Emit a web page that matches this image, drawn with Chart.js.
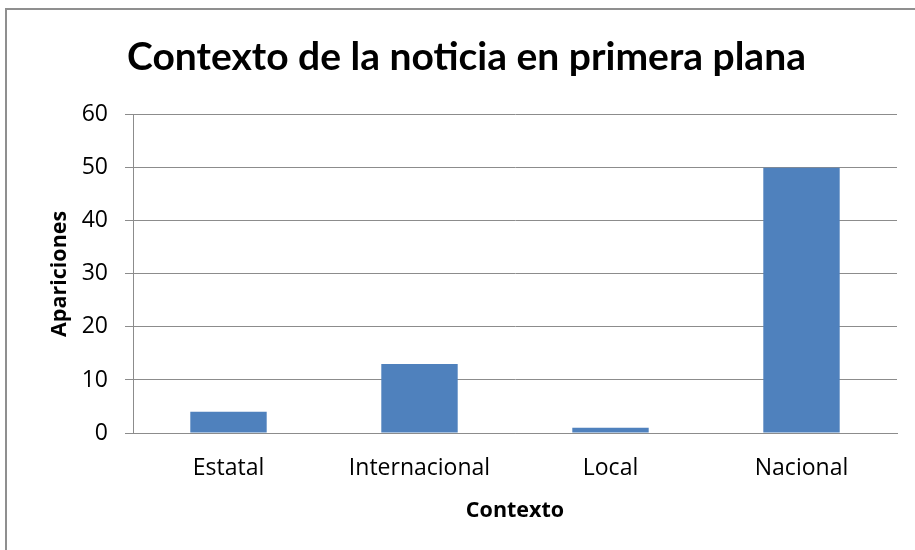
<!DOCTYPE html>
<html>
<head>
<meta charset="utf-8">
<script src="https://cdn.jsdelivr.net/npm/chart.js@4"></script>
<style>
  html, body { margin: 0; padding: 0; background: #ffffff; }
  #wrap { position: relative; width: 915px; height: 550px; overflow: hidden; background: #ffffff; }
  #frame { position: absolute; left: 5px; top: 8px; width: 1000px; height: 1000px; border-top: 2px solid #8f8f8f; border-left: 2px solid #8f8f8f; box-sizing: border-box; }
  canvas { position: absolute; left: 0; top: 0; }
</style>
</head>
<body>
<div id="wrap">
  <div id="frame"></div>
  <canvas id="c" width="915" height="550"></canvas>
</div>
<script>
const titleText = "Contexto de la noticia en primera plana";
const categories = ["Estatal", "Internacional", "Local", "Nacional"];
const apariciones = [4, 13, 1, 50];
const yTicks = [0, 10, 20, 30, 40, 50, 60];
const xAxisTitle = "Contexto";
const yAxisTitle = "Apariciones";

const TITLE_FONT = "Lato, 'Noto Sans', sans-serif";
const FONT = "'Open Sans', 'Noto Sans', sans-serif";
const gridColor = "#8c8c8c";

new Chart(document.getElementById("c"), {
  type: "bar",
  data: {
    labels: categories,
    datasets: [{
      data: apariciones,
      backgroundColor: "#4f81bd",
      borderWidth: 0,
      categoryPercentage: 1.0,
      barPercentage: 0.4
    }]
  },
  options: {
    responsive: false,
    animation: false,
    devicePixelRatio: 1,
    layout: { padding: { left: 36, right: 18, top: 0, bottom: 0 } },
    plugins: {
      legend: { display: false },
      tooltip: { enabled: false },
      title: {
        display: true,
        text: titleText,
        color: "#000000",
        font: { family: TITLE_FONT, size: 39, weight: "bold" },
        padding: { top: 34, bottom: 34 }
      }
    },
    scales: {
      x: {
        grid: { display: false, drawTicks: false },
        border: { display: true, color: gridColor, width: 1 },
        ticks: { color: "#000000", font: { family: FONT, size: 23 }, padding: 22 },
        title: { display: true, text: xAxisTitle, color: "#000000", font: { family: FONT, size: 21.5, weight: "bold" }, padding: { top: 0, bottom: 26 } },
        afterFit: (s) => { s.height = 117; }
      },
      y: {
        min: 0, max: 60,
        afterBuildTicks: (s) => { s.ticks = yTicks.map(v => ({ value: v })); },
        grid: { display: true, color: gridColor, lineWidth: 1, drawTicks: true, tickLength: 8, tickColor: gridColor },
        border: { display: true, color: gridColor, width: 1 },
        ticks: { color: "#000000", font: { family: FONT, size: 23 }, padding: 17 },
        title: { display: true, text: yAxisTitle, color: "#000000", font: { family: FONT, size: 21.5, weight: "bold" }, padding: { top: 11, bottom: 0 } },
        afterFit: (s) => { s.width = 97; }
      }
    }
  }
});
</script>
</body>
</html>
